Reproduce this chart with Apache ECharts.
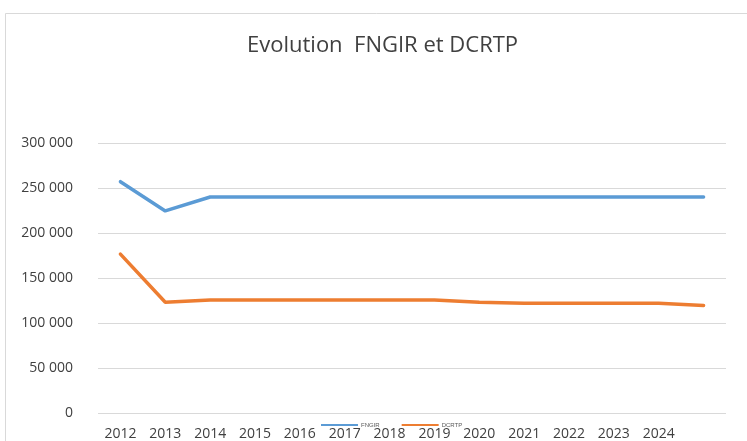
<!DOCTYPE html>
<html>
<head>
<meta charset="utf-8">
<script src="https://cdn.jsdelivr.net/npm/echarts@6/dist/echarts.min.js"></script>
<style>
  html, body { margin: 0; padding: 0; background: #fff; overflow: hidden; }
  #visualisation { width: 747px; height: 441px; }
</style>
</head>
<body>
<div id="visualisation"></div>
<script>
// Données
const annees = ['2012', '2013', '2014', '2015', '2016', '2017', '2018', '2019', '2020', '2021', '2022', '2023', '2024', '2025'];
const fngir = [257000, 224500, 240000, 240000, 240000, 240000, 240000, 240000, 240000, 240000, 240000, 240000, 240000, 240000];
const dcrtp = [176500, 123000, 125500, 125500, 125500, 125500, 125500, 125500, 123000, 122000, 122000, 122000, 122000, 119500];
const graduationsY = [0, 50000, 100000, 150000, 200000, 250000, 300000];

function drawVisualisation() {
    let visualisation = echarts.init(document.getElementById('visualisation'));

    let option = {
        animation: false,
        backgroundColor: '#fff',
        // cadre du graphique (coupé à droite et en bas)
        graphic: [{
            type: 'rect',
            shape: { x: 5.5, y: 13.5, width: 800, height: 500 },
            style: { fill: 'none', stroke: '#d9d9d9', lineWidth: 1 }
        }],
        title: {
            text: 'Evolution  FNGIR et DCRTP',
            left: 242,
            top: 30,
            textStyle: {
                fontFamily: 'Open Sans, sans-serif',
                fontWeight: 'normal',
                fontSize: 22,
                color: '#404040'
            }
        },
        legend: {
            left: 316,
            top: 417,
            icon: 'rect',
            itemWidth: 37,
            itemHeight: 2,
            itemGap: 22,
            textStyle: { fontSize: 6, color: '#595959', padding: [0, 0, 0, -2] },
            data: ['FNGIR', 'DCRTP']
        },
        grid: { left: 98, right: 21, top: 143, bottom: 28, containLabel: false },
        xAxis: {
            type: 'category',
            data: annees,
            boundaryGap: true,
            axisLine: { show: false },
            axisTick: { show: false },
            axisLabel: {
                fontSize: 14,
                color: '#404040',
                margin: 14,
                fontFamily: 'Open Sans, sans-serif',
                interval: (i) => i < annees.length - 1
            }
        },
        yAxis: {
            type: 'value',
            min: graduationsY[0],
            max: graduationsY[graduationsY.length - 1],
            interval: 50000,
            axisLine: { show: false },
            axisTick: { show: false },
            splitLine: { lineStyle: { color: '#d9d9d9', width: 1 } },
            axisLabel: {
                fontSize: 14,
                color: '#404040',
                margin: 25,
                fontFamily: 'Open Sans, sans-serif',
                formatter: (v) => String(v).replace(/\B(?=(\d{3})+(?!\d))/g, ' ')
            }
        },
        series: [
            {
                name: 'FNGIR',
                type: 'line',
                data: fngir,
                showSymbol: false,
                lineStyle: { color: '#5b9bd5', width: 3.5, cap: 'round' },
                itemStyle: { color: '#5b9bd5' }
            },
            {
                name: 'DCRTP',
                type: 'line',
                data: dcrtp,
                showSymbol: false,
                lineStyle: { color: '#ed7d31', width: 3.5, cap: 'round' },
                itemStyle: { color: '#ed7d31' }
            }
        ]
    };

    visualisation.setOption(option);
}

window.addEventListener('load', drawVisualisation);
</script>
</body>
</html>
